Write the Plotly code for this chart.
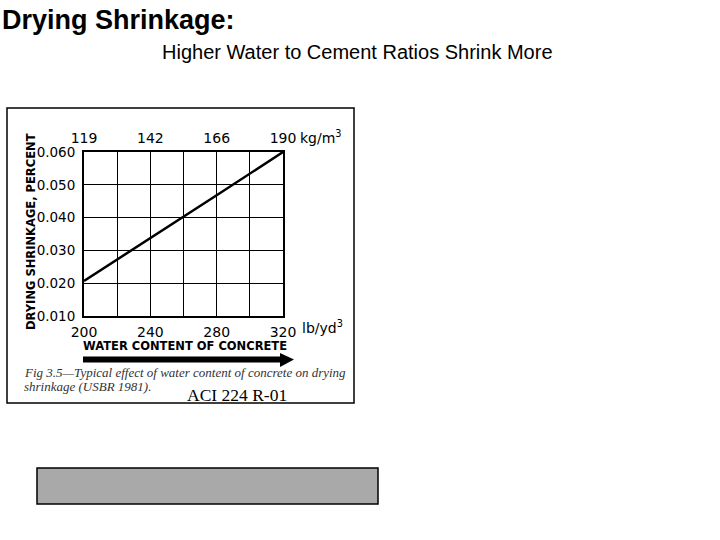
import plotly.graph_objects as go

# ---- data ----
water_lb = [200, 240, 280, 320]              # lb/yd^3
shrinkage = [0.0207, 0.0337, 0.0468, 0.060]  # percent
bottom_ticks = [200, 220, 240, 260, 280, 300, 320]
bottom_labels = ["200", "", "240", "", "280", "", "320"]
top_ticks = [200, 240, 280, 320]
top_labels = ["119", "142", "166", "190"]
y_ticks = [0.010, 0.020, 0.030, 0.040, 0.050, 0.060]
y_labels = ["0.010", "0.020", "0.030", "0.040", "0.050", "0.060"]

W, H = 720, 540
def px(x):
    return x / W
def py(y):
    return 1 - y / H

tick_font = dict(family="DejaVu Sans", size=14, color="black")
ytick_font = dict(family="DejaVu Sans", size=13.5, color="black")

fig = go.Figure()
fig.add_trace(go.Scatter(x=water_lb, y=shrinkage, mode="lines",
                         line=dict(color="black", width=2.5),
                         showlegend=False, hoverinfo="skip"))
fig.add_trace(go.Scatter(x=water_lb, y=shrinkage, mode="lines", xaxis="x2",
                         line=dict(color="rgba(0,0,0,0)", width=0),
                         showlegend=False, hoverinfo="skip"))

fig.update_layout(
    width=W, height=H,
    margin=dict(l=0, r=0, t=0, b=0, pad=0, autoexpand=False),
    showlegend=False,
    paper_bgcolor="white", plot_bgcolor="white",
    xaxis=dict(domain=[px(84), px(283)], range=[200, 320],
               tickvals=bottom_ticks, ticktext=bottom_labels,
               showgrid=True, gridcolor="black", gridwidth=1,
               showline=True, linecolor="black", linewidth=2, mirror=True,
               ticks="", tickfont=tick_font, zeroline=False, fixedrange=True,
               automargin=False, ticklabelstandoff=2),
    xaxis2=dict(overlaying="x", side="top", range=[200, 320],
                tickvals=top_ticks, ticktext=top_labels,
                showgrid=False, showline=False, ticks="",
                tickfont=tick_font, zeroline=False, fixedrange=True,
                automargin=False, ticklabelstandoff=5),
    yaxis=dict(domain=[py(316), py(152)], range=[0.010, 0.060],
               tickvals=y_ticks, ticktext=y_labels,
               showgrid=True, gridcolor="black", gridwidth=1,
               showline=True, linecolor="black", linewidth=2, mirror=True,
               ticks="outside", ticklen=4, tickcolor="rgba(0,0,0,0)",
               tickfont=ytick_font, zeroline=False, fixedrange=True,
               automargin=False),
)

shapes = [
    # outer frame of the figure image
    dict(type="rect", xref="paper", yref="paper",
         x0=px(7), x1=px(354), y0=py(403), y1=py(108),
         line=dict(color="black", width=1.5), fillcolor="rgba(0,0,0,0)"),
    # arrow shaft
    dict(type="rect", xref="paper", yref="paper",
         x0=px(83), x1=px(281), y0=py(362.5), y1=py(356.5),
         line=dict(width=0), fillcolor="black"),
    # arrow head
    dict(type="path", xref="paper", yref="paper",
         path=f"M {px(280)},{py(353)} L {px(294)},{py(359.5)} L {px(280)},{py(367)} Z",
         line=dict(width=0), fillcolor="black"),
    # gray textured bar (solid approximation)
    dict(type="rect", xref="paper", yref="paper",
         x0=px(37), x1=px(378), y0=py(504), y1=py(468),
         line=dict(color="black", width=1.5), fillcolor="#a9a9a9"),
]
fig.update_layout(shapes=shapes)

ann = [
    dict(text="<b>Drying Shrinkage:</b>", x=px(0), y=py(20), xanchor="left", yanchor="middle",
         font=dict(family="Liberation Sans", size=27, color="black")),
    dict(text="Higher Water to Cement Ratios Shrink More", x=px(357), y=py(52),
         xanchor="center", yanchor="middle",
         font=dict(family="Liberation Sans", size=20, color="black")),
    dict(text="<b>DRYING SHRINKAGE, PERCENT</b>", x=px(31), y=py(232), textangle=-90,
         xanchor="center", yanchor="middle",
         font=dict(family="DejaVu Sans", size=11.5, color="black")),
    dict(text="lb/yd<sup>3</sup>", x=px(300), y=py(327), xanchor="left", yanchor="middle",
         font=tick_font),
    dict(text="kg/m<sup>3</sup>", x=px(298), y=py(137), xanchor="left", yanchor="middle",
         font=tick_font),
    dict(text="<b>WATER CONTENT OF CONCRETE</b>", x=px(185), y=py(346),
         xanchor="center", yanchor="middle",
         font=dict(family="DejaVu Sans", size=11.5, color="black")),
    dict(text="<i>Fig 3.5—Typical effect of water content of concrete on drying</i>",
         x=px(22), y=py(372), xanchor="left", yanchor="middle",
         font=dict(family="Liberation Serif", size=13, color="#333333")),
    dict(text="<i>shrinkage (USBR 1981).</i>",
         x=px(22), y=py(386.5), xanchor="left", yanchor="middle",
         font=dict(family="Liberation Serif", size=13, color="#333333")),
    dict(text="ACI 224 R-01", x=px(237), y=py(395), xanchor="center", yanchor="middle",
         font=dict(family="Liberation Serif", size=17.5, color="black")),
]
for a in ann:
    a.update(xref="paper", yref="paper", showarrow=False)
fig.update_layout(annotations=ann)

fig.write_html("out.html")
